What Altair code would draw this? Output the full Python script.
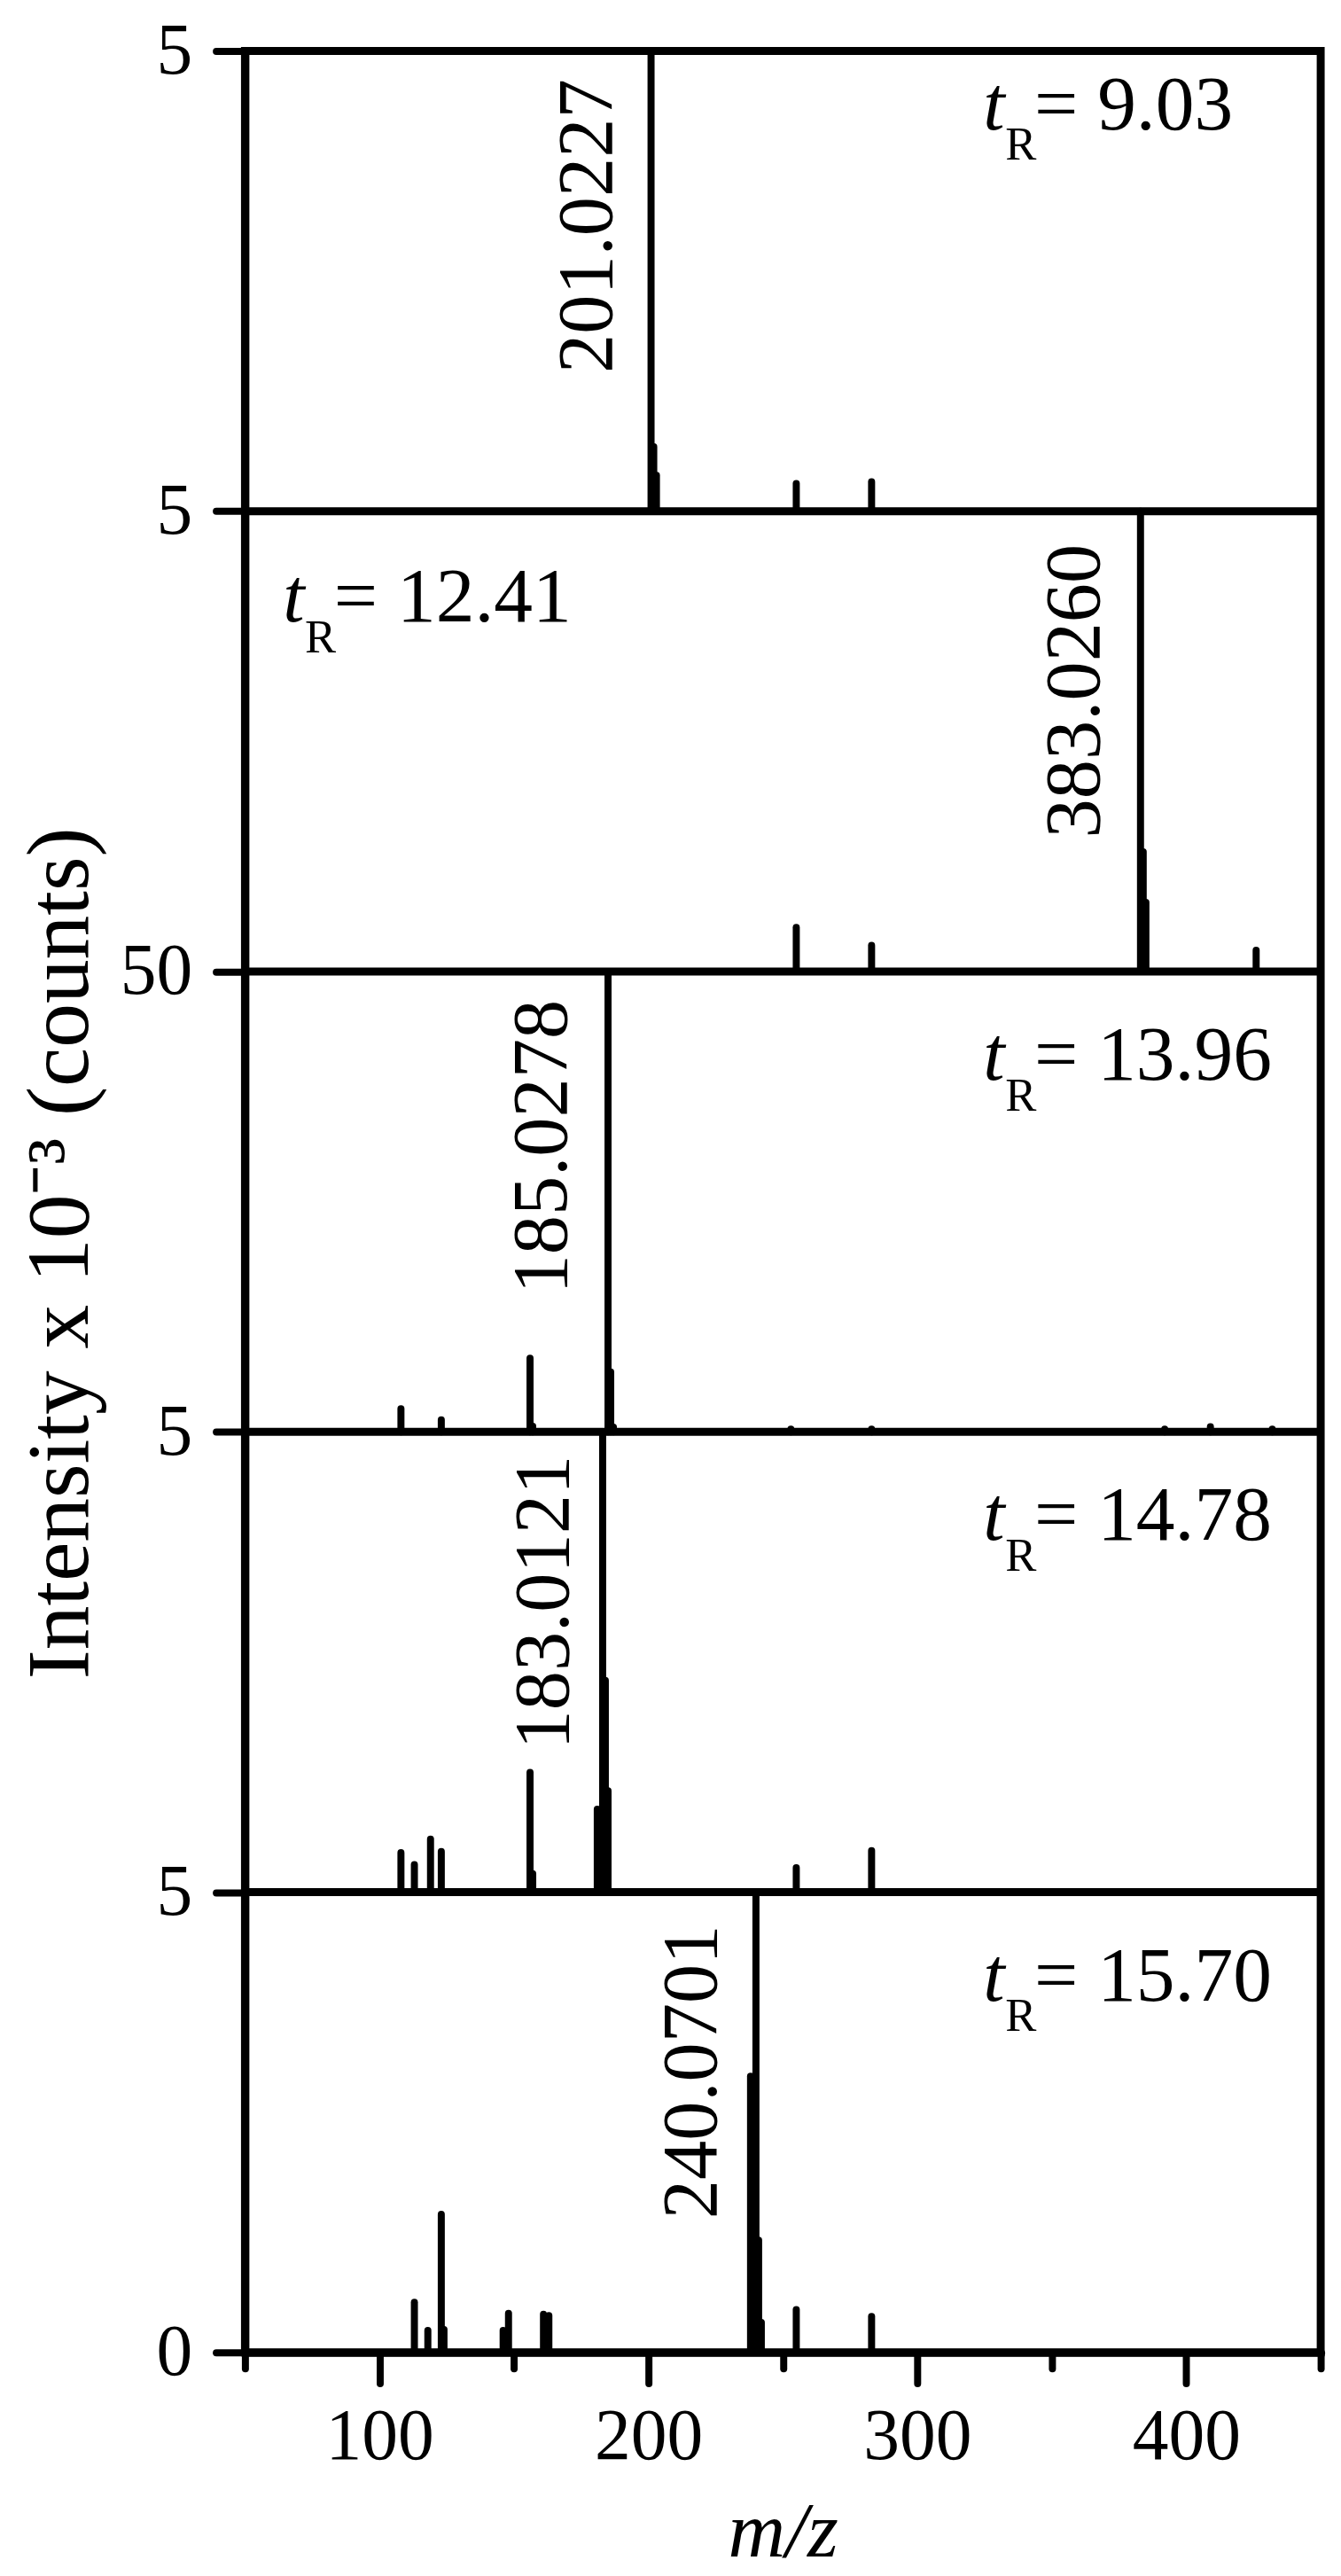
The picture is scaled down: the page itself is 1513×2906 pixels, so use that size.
import json
import altair as alt
import pandas as pd

SERIF = "Liberation Serif"

# ---------------- data (panels listed from top to bottom) ----------------
x_major = [100, 200, 300, 400]
x_minor = [50, 150, 250, 350, 450]
boundary_labels = ["0", "5", "5", "50", "5", "5"]   # y tick labels, bottom to top

panel_tr = ["9.03", "12.41", "13.96", "14.78", "15.70"]
panel_label = ["201.0227", "383.0260", "185.0278", "183.0121", "240.0701"]

# relative intensities (fraction of each panel's full height)
p1_mz = [201, 202, 203, 255, 283]
p1_int = [1.0, 0.14, 0.078, 0.06, 0.064]

p2_mz = [383, 384, 385, 255, 283, 426]
p2_int = [1.0, 0.26, 0.15, 0.096, 0.057, 0.046]

p3_mz = [185, 186, 187, 156, 157, 108, 123, 253, 283, 392, 409, 432]
p3_int = [1.0, 0.13, 0.01, 0.16, 0.012, 0.05, 0.026, 0.006, 0.006, 0.006, 0.011, 0.006]

p4_mz = [183, 181, 184, 185, 156, 157, 108, 113, 119, 123, 255, 283]
p4_int = [1.0, 0.18, 0.46, 0.22, 0.26, 0.04, 0.086, 0.06, 0.115, 0.088, 0.053, 0.09]

p5_mz = [240, 238, 241, 242, 113, 118, 123, 124, 146, 148, 161, 163, 255, 283]
p5_int = [1.0, 0.60, 0.244, 0.065, 0.109, 0.048, 0.30, 0.05, 0.048, 0.085, 0.083, 0.08, 0.093, 0.078]

# peak label anchors (m/z of text baseline, relative height of text start)
ann_x = [186.3, 367.7, 169.6, 170.2, 225.2]
ann_y = [0.30, 0.29, 0.30, 0.31, 0.29]

# retention-time label anchors
tr_x = [324.5, 64.1, 324.5, 324.5, 324.5]
tr_y = [0.83, 0.76, 0.765, 0.765, 0.765]

separators = [1, 2, 3, 4]

# ---------------- build tables ----------------
panels_mz = [p1_mz, p2_mz, p3_mz, p4_mz, p5_mz]
panels_int = [p1_int, p2_int, p3_int, p4_int, p5_int]
n = len(panels_mz)

rows = []
for i, (mzs, ints) in enumerate(zip(panels_mz, panels_int)):
    base = n - 1 - i
    for m, v in zip(mzs, ints):
        rows.append({"mz": m, "y0": base, "y1": base + v})
peaks_df = pd.DataFrame(rows)

ann_df = pd.DataFrame({
    "x": ann_x,
    "y": [n - 1 - i + ann_y[i] for i in range(n)],
    "label": panel_label,
})

tr_df = pd.DataFrame({
    "x": tr_x,
    "y": [n - 1 - i + tr_y[i] for i in range(n)],
    "t": ["t"] * n,
    "sub": ["R"] * n,
    "val": ["= " + v for v in panel_tr],
})

sep_df = pd.DataFrame({"y": separators})

W, H = 1221, 2612
xs = alt.Scale(domain=[50, 450], nice=False, zero=False)
ys = alt.Scale(domain=[0, 5], nice=False, zero=False)

label_expr = json.dumps(boundary_labels) + "[datum.value]"

peaks = alt.Chart(peaks_df).mark_rule(color="black", strokeWidth=8, strokeCap="round").encode(
    x=alt.X("mz:Q", scale=xs, axis=alt.Axis(
        values=x_major, format="d", orient="bottom", tickSize=35, labelPadding=20,
        title="m/z", titleFontStyle="italic", titleFontSize=90, titlePadding=24,
        titleFontWeight="normal")),
    y=alt.Y("y0:Q", scale=ys, axis=alt.Axis(
        values=[0, 1, 2, 3, 4, 5], labelExpr=label_expr, tickSize=33, labelPadding=27,
        title="Intensity x 10⁻³ (counts)", titleFontSize=100, titlePadding=16,
        titleY=1364, titleFontWeight="normal")),
    y2="y1:Q",
)

seps = alt.Chart(sep_df).mark_rule(color="black", strokeWidth=9).encode(
    x=alt.value(0), x2=alt.value(W),
    y=alt.Y("y:Q", scale=ys, axis=None),
)

ann = alt.Chart(ann_df).mark_text(
    angle=270, align="left", baseline="alphabetic", font=SERIF, fontSize=89, color="black"
).encode(
    x=alt.X("x:Q", scale=xs, axis=alt.Axis(
        values=x_minor, orient="bottom", tickSize=18, labels=False, domain=False, title=None)),
    y=alt.Y("y:Q", scale=ys, axis=None),
    text="label:N",
)

tr_t = alt.Chart(tr_df).mark_text(
    align="left", baseline="alphabetic", font=SERIF, fontSize=88, fontStyle="italic", color="black"
).encode(
    x=alt.X("x:Q", scale=xs, axis=None),
    y=alt.Y("y:Q", scale=ys, axis=None),
    text="t:N",
)

tr_sub = alt.Chart(tr_df).mark_text(
    align="left", baseline="alphabetic", font=SERIF, fontSize=53, dx=25, dy=35, color="black"
).encode(
    x=alt.X("x:Q", scale=xs, axis=None),
    y=alt.Y("y:Q", scale=ys, axis=None),
    text="sub:N",
)

tr_val = alt.Chart(tr_df).mark_text(
    align="left", baseline="alphabetic", font=SERIF, fontSize=88, dx=58, color="black"
).encode(
    x=alt.X("x:Q", scale=xs, axis=None),
    y=alt.Y("y:Q", scale=ys, axis=None),
    text="val:N",
)

chart = alt.layer(peaks, seps, ann, tr_t, tr_sub, tr_val).resolve_axis(
    x="independent", y="independent"
).properties(
    width=W, height=H,
    padding={"left": 11, "top": 0, "right": 10, "bottom": 0},
).configure_view(
    stroke="black", strokeWidth=9
).configure_axis(
    grid=False,
    domainColor="black", domainWidth=9, domainCap="round",
    tickColor="black", tickWidth=8, tickCap="round",
    labelFont=SERIF, labelFontSize=82, labelColor="black",
    titleFont=SERIF, titleColor="black",
)

chart.save("out.html", embed_options={"renderer": "svg", "actions": False})
